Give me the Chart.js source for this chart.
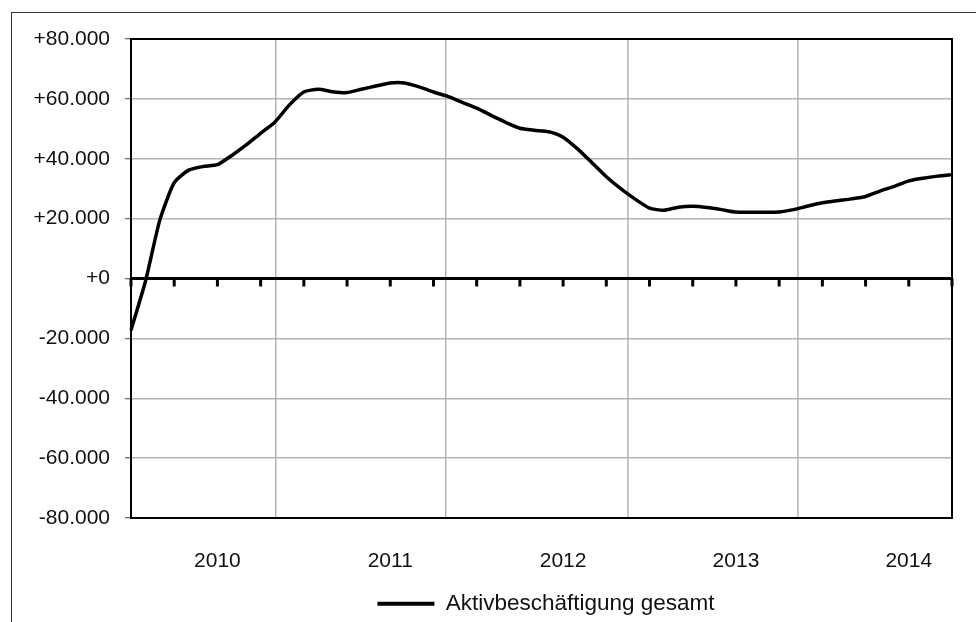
<!DOCTYPE html>
<html>
<head>
<meta charset="utf-8">
<script src="https://cdn.jsdelivr.net/npm/chart.js@4"></script>
<style>
    body { margin: 0; background: #fff; }
    #wrap { position: relative; width: 976px; height: 622px; }
    #frame {
        position: absolute; left: 11px; top: 12px; right: -10px; bottom: -10px;
        border-left: 1.5px solid #333; border-top: 1.5px solid #333;
        pointer-events: none;
    }
</style>
</head>
<body>
<div id="wrap">
    <canvas id="chart" width="976" height="622"></canvas>
    <div id="frame"></div>
</div>
<script>
// Months, Jan 2010 - Oct 2014
var months = [
    '2010-01', '2010-02', '2010-03', '2010-04', '2010-05', '2010-06', '2010-07', '2010-08', '2010-09', '2010-10', '2010-11', '2010-12',
    '2011-01', '2011-02', '2011-03', '2011-04', '2011-05', '2011-06', '2011-07', '2011-08', '2011-09', '2011-10', '2011-11', '2011-12',
    '2012-01', '2012-02', '2012-03', '2012-04', '2012-05', '2012-06', '2012-07', '2012-08', '2012-09', '2012-10', '2012-11', '2012-12',
    '2013-01', '2013-02', '2013-03', '2013-04', '2013-05', '2013-06', '2013-07', '2013-08', '2013-09', '2013-10', '2013-11', '2013-12',
    '2014-01', '2014-02', '2014-03', '2014-04', '2014-05', '2014-06', '2014-07', '2014-08', '2014-09', '2014-10'
];

// Change in active employment vs. previous year
var aktivGesamt = [
    -17300, -1000, 19500, 32000, 36200, 37400, 38000, 41100, 44600, 48500, 52300, 58000,
    62300, 63200, 62400, 62100, 63200, 64300, 65300, 65300, 64000, 62300, 60800, 58800,
    56900, 54500, 52200, 50200, 49500, 49000, 47200, 43300, 38700, 34000, 30000, 26500,
    23500, 22800, 23800, 24100, 23700, 23000, 22200, 22100, 22100, 22200, 23000, 24200,
    25300, 26000, 26600, 27400, 29200, 30800, 32600, 33500, 34200, 34700
];

// Vertical gridlines (category positions) and small ticks on the zero line
var verticalGridAt = [10.05, 21.85, 34.5, 46.3];
var zeroTickEvery = 3;

var fontFamily = '"Liberation Sans", Arial, sans-serif';

// Format numbers like +80.000 / -20.000
function formatValue(v) {
    var s = Math.abs(v).toFixed(0).replace(/\B(?=(\d{3})+(?!\d))/g, '.');
    if (v > 0) return '+' + s;
    if (v < 0) return '-' + s;
    return '+0';
}

// The original chart box is wider than the window, so its legend sits right of centre
var legendShift = {
    id: 'legendShift',
    afterLayout: function (chart) {
        var lg = chart.legend;
        var dx = 546 - (lg.left + lg.right) / 2;
        lg.left += dx;
        lg.right += dx;
        lg.top += 3;
        lg.bottom += 3;
    }
};

// Plot frame, vertical gridlines and zero line ticks
var plotExtras = {
    id: 'plotExtras',
    beforeDatasetsDraw: function (chart) {
        var ctx = chart.ctx;
        var area = chart.chartArea;
        var x = chart.scales.x;
        var y = chart.scales.y;
        ctx.save();
        ctx.strokeStyle = '#b4b4b4';
        ctx.lineWidth = 1.5;
        verticalGridAt.forEach(function (pos) {
            var px = x.getPixelForValue(pos);
            ctx.beginPath();
            ctx.moveTo(px, area.top);
            ctx.lineTo(px, area.bottom);
            ctx.stroke();
        });
        // zero line with downward ticks
        var y0 = y.getPixelForValue(0);
        ctx.strokeStyle = '#000';
        ctx.lineWidth = 3;
        ctx.beginPath();
        ctx.moveTo(area.left, y0);
        ctx.lineTo(area.right, y0);
        ctx.stroke();
        for (var i = 0; i < months.length; i += zeroTickEvery) {
            var tx = x.getPixelForValue(i);
            ctx.beginPath();
            ctx.moveTo(tx, y0);
            ctx.lineTo(tx, y0 + 8);
            ctx.stroke();
        }
        ctx.restore();
    },
    afterDatasetsDraw: function (chart) {
        var ctx = chart.ctx;
        var area = chart.chartArea;
        ctx.save();
        ctx.strokeStyle = '#000';
        ctx.lineWidth = 2;
        ctx.strokeRect(area.left, area.top, area.right - area.left, area.bottom - area.top);
        ctx.restore();
    }
};

var chart = new Chart(document.getElementById('chart').getContext('2d'), {
    type: 'line',
    data: {
        labels: months,
        datasets: [{
            label: 'Aktivbeschäftigung gesamt',
            data: aktivGesamt,
            borderColor: '#000',
            backgroundColor: '#000',
            borderWidth: 3.5,
            pointRadius: 0,
            tension: 0.2,
            fill: false
        }]
    },
    options: {
        responsive: false,
        animation: false,
        layout: {
            padding: { top: 39, right: 24, bottom: 0, left: 0 }
        },
        plugins: {
            tooltip: { enabled: false },
            legend: {
                position: 'bottom',
                labels: {
                    boxWidth: 57,
                    boxHeight: 4,
                    padding: 10,
                    color: '#111',
                    font: { family: fontFamily, size: 22.5, lineHeight: 1 },
                    generateLabels: function (c) {
                        var items = Chart.defaults.plugins.legend.labels.generateLabels(c);
                        items.forEach(function (it) {
                            it.lineWidth = 0;
                            it.fillStyle = '#000';
                        });
                        return items;
                    }
                }
            }
        },
        scales: {
            x: {
                offset: false,
                // invisible tick marks push the year labels down without widening the right padding
                grid: { display: true, color: 'rgba(0,0,0,0)', drawOnChartArea: false, drawTicks: true, tickLength: 20 },
                border: { display: false },
                ticks: {
                    autoSkip: false,
                    maxRotation: 0,
                    padding: 11,
                    color: '#111',
                    font: { family: fontFamily, size: 21 },
                    callback: function (value) {
                        var label = this.getLabelForValue(value);
                        return label.slice(5) === '07' ? label.slice(0, 4) : '';
                    }
                },
                afterFit: function (scale) { scale.height = 61.5; }
            },
            y: {
                min: -80000,
                max: 80000,
                grid: {
                    color: function (ctx) {
                        return ctx.tick.value === 0 ? 'rgba(0,0,0,0)' : '#b4b4b4';
                    },
                    lineWidth: 1.5,
                    tickLength: 6,
                    tickColor: '#444',
                    tickWidth: 1
                },
                border: { display: true, color: '#000', width: 2 },
                ticks: {
                    stepSize: 20000,
                    padding: 15,
                    color: '#111',
                    font: { family: fontFamily, size: 21 },
                    callback: function (value) { return formatValue(value); }
                },
                afterFit: function (scale) { scale.width = 131; }
            }
        }
    },
    plugins: [plotExtras, legendShift]
});
</script>
</body>
</html>
